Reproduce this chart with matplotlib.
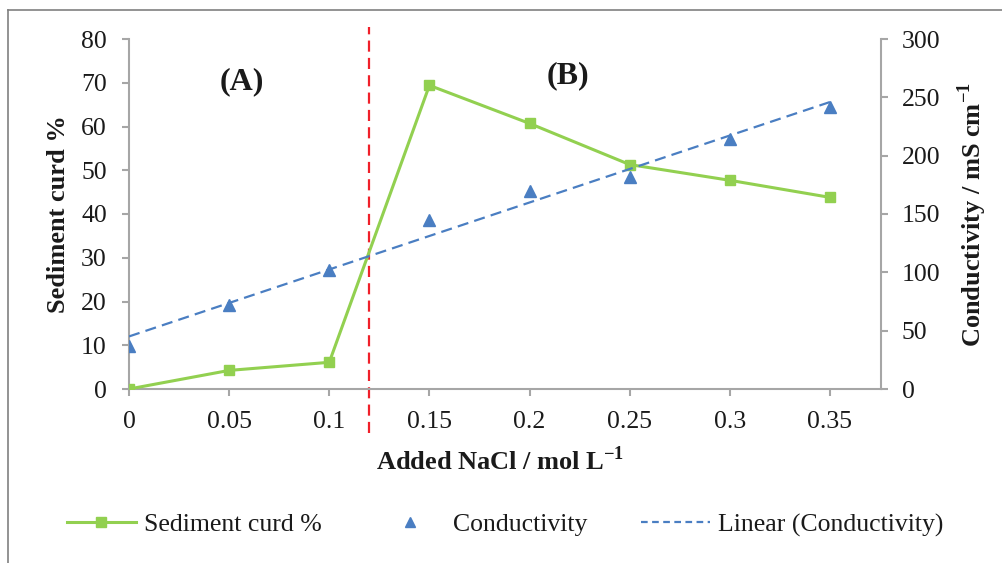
import numpy as np
import matplotlib.pyplot as plt
from matplotlib.lines import Line2D

plt.rcParams['font.family'] = ['Liberation Serif', 'DejaVu Serif']
plt.rcParams['mathtext.fontset'] = 'custom'
plt.rcParams['mathtext.rm'] = 'Liberation Serif'
plt.rcParams['mathtext.bf'] = 'Liberation Serif:bold'

# data
nacl = [0, 0.05, 0.1, 0.15, 0.2, 0.25, 0.3, 0.35]
sediment = [0, 4.25, 6.1, 69.4, 60.7, 51.3, 47.7, 43.8]
conductivity = [37, 72.2, 101.6, 145, 170.1, 182.1, 214.1, 242]
x_ticks = [0, 0.05, 0.1, 0.15, 0.2, 0.25, 0.3, 0.35]
x_ticklabels = ["0", "0.05", "0.1", "0.15", "0.2", "0.25", "0.3", "0.35"]
sed_ticks = [0, 10, 20, 30, 40, 50, 60, 70, 80]
cond_ticks = [0, 50, 100, 150, 200, 250, 300]
boundary = 0.12

green = "#92D050"
blue = "#4A7EC2"
red = "#F0202A"
grey = "#A6A6A6"
txt = "#1a1a1a"

fig = plt.figure(figsize=(10.03, 5.63), dpi=100)
ax = fig.add_axes([129 / 1003, 1 - 389 / 563, 752 / 1003, 350 / 563])
ax2 = ax.twinx()

# outer frame (only top and left edges are visible)
fig.add_artist(Line2D([8 / 1003, 1.0], [1 - 10 / 563, 1 - 10 / 563], color="#808080", lw=1.2))
fig.add_artist(Line2D([8 / 1003, 8 / 1003], [0, 1 - 10 / 563], color="#808080", lw=1.2))

ax.plot(nacl, sediment, color=green, lw=2.2, marker="s", ms=7, zorder=3)
ax2.plot(nacl, conductivity, ls="none", marker="^", color=blue, ms=8, zorder=3)

# linear trend of conductivity
slope, icpt = np.polyfit(nacl, conductivity, 1)
xs = np.array([nacl[0], nacl[-1]])
ax2.plot(xs, slope * xs + icpt, color=blue, lw=1.6, dashes=(5, 2.8), zorder=2)

ax.axvline(boundary, ymin=-0.126, ymax=1.034, color=red, lw=1.6, dashes=(5, 2.8), clip_on=False)

ax.set_xlim(0, 0.3755)
ax.set_ylim(0, 80)
ax2.set_ylim(0, 300)
ax.set_xticks(x_ticks)
ax.set_xticklabels(x_ticklabels)
ax.set_yticks(sed_ticks)
ax2.set_yticks(cond_ticks)

for a in (ax, ax2):
    for s in a.spines.values():
        s.set_color(grey)
        s.set_linewidth(1.5)
    a.spines["top"].set_visible(False)
    a.tick_params(colors=grey, labelcolor=txt, labelsize=18.5, length=5, width=1.5, pad=11)
ax.spines["right"].set_visible(False)
ax2.spines["left"].set_visible(False)
ax2.spines["bottom"].set_visible(False)
ax2.tick_params(pad=10)

ax.set_ylabel("Sediment curd %", fontsize=19, fontweight="bold", color=txt)
ax.yaxis.set_label_coords(-0.078, 0.5)
ax.set_xlabel("Added NaCl / mol L$^{\\mathbf{-1}}$", fontsize=19, fontweight="bold", color=txt)
ax.xaxis.set_label_coords(0.493, -0.163)
ax2.set_ylabel("Conductivity / mS cm$^{\\mathbf{-1}}$", fontsize=19, fontweight="bold", color=txt)
ax2.yaxis.set_label_coords(1.099, 0.5)

ax.text(0.0565, 70.3, "(A)", fontsize=23, fontweight="bold", ha="center", va="center", color=txt)
ax.text(0.219, 71.5, "(B)", fontsize=23, fontweight="bold", ha="center", va="center", color=txt)

handles = [
    Line2D([], [], color=green, lw=2.2, marker="s", ms=7),
    Line2D([], [], ls="none", color=blue, marker="^", ms=7.5),
    Line2D([], [], color=blue, lw=1.6, dashes=(3, 2)),
]
labels = ["Sediment curd %", "Conductivity", "Linear (Conductivity)"]
fig.legend(handles, labels, loc="center", bbox_to_anchor=(505 / 1003, 1 - 525 / 563), ncol=3,
           frameon=False, fontsize=18.5, handlelength=2.7, handletextpad=0.3, columnspacing=2.1,
           labelcolor=txt)

fig.savefig("out.png", dpi=100)
